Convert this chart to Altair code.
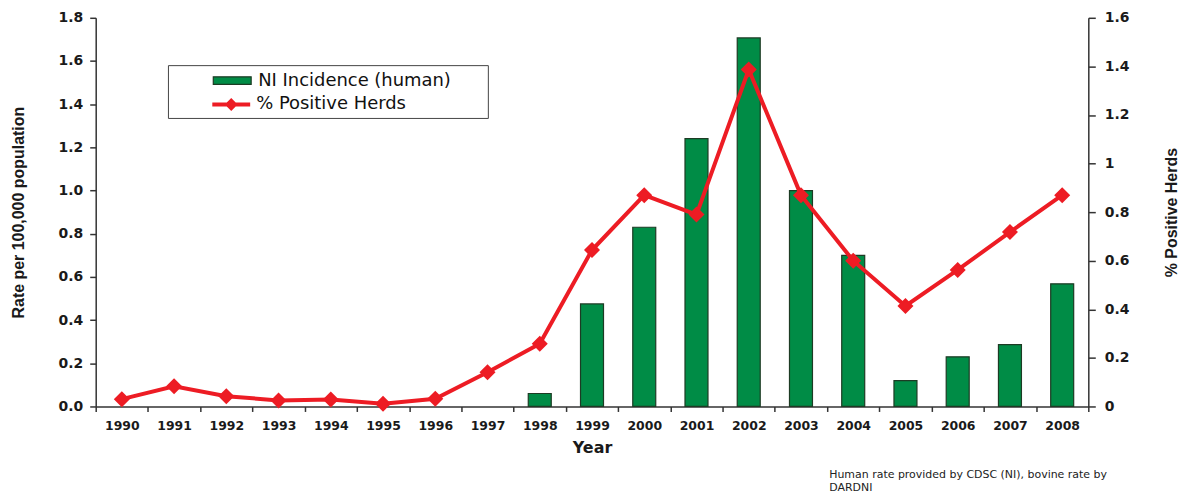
import altair as alt
import pandas as pd

# ---------------- data ----------------
years = [str(y) for y in range(1990, 2009)]
bar_years = [str(y) for y in range(1998, 2009)]
incidence = [0.06, 0.475, 0.83, 1.24, 1.707, 1.0, 0.70, 0.12, 0.23, 0.286, 0.568]
herds = [0.03, 0.083, 0.042, 0.025, 0.029, 0.011, 0.032, 0.141, 0.258, 0.644,
         0.87, 0.79, 1.387, 0.87, 0.60, 0.414, 0.562, 0.718, 0.87]
left_ticks = [0.0, 0.2, 0.4, 0.6, 0.8, 1.0, 1.2, 1.4, 1.6, 1.8]
right_ticks = [0.0, 0.2, 0.4, 0.6, 0.8, 1.0, 1.2, 1.4, 1.6]
series = ["NI Incidence (human)", "% Positive Herds"]
note = ["Human rate provided by CDSC (NI), bovine rate by", "DARDNI"]

GREEN = "#008C46"
GREEN_EDGE = "#1d3b24"
RED = "#ED1C24"
AXIS = "#333333"
LABEL_FONT = "DejaVu Sans"
TITLE_FONT = "Liberation Sans"

bars_df = pd.DataFrame({"year": bar_years, "value": incidence, "series": series[0]})
line_df = pd.DataFrame({"year": years, "value": herds, "series": series[1]})
note_df = pd.DataFrame({"k": [0]})
box_df = pd.DataFrame({"k": [0]})

bar_legend = alt.Legend(
    title=None, orient="none", legendX=117, legendY=43,
    padding=0, symbolSize=1444, labelOffset=6, labelLimit=400,
    symbolType="M-1,-0.2H1V0.2H-1Z",
    symbolStrokeColor=GREEN_EDGE, symbolStrokeWidth=1.2, symbolOpacity=1,
    labelFont=LABEL_FONT, labelFontSize=18, labelColor="#111111",
)
line_legend = alt.Legend(
    title=None, orient="none", legendX=117, legendY=68,
    padding=0, symbolSize=1444, labelOffset=6, labelLimit=400,
    symbolType="M-1,-0.105H1V0.105H-1Z M0,-0.34L0.34,0L0,0.34L-0.34,0Z",
    symbolFillColor=RED, symbolStrokeWidth=0, symbolOpacity=1,
    labelFont=LABEL_FONT, labelFontSize=18, labelColor="#111111",
)

x_enc = alt.X(
    "year:O",
    scale=alt.Scale(type="band", paddingInner=0, paddingOuter=0),
    axis=alt.Axis(
        title="Year", labelAngle=0, tickBand="extent",
        labelFont=LABEL_FONT, labelFontSize=12.5, labelFontWeight="bold", labelColor="#1a1a1a",
        labelPadding=8, tickSize=5, tickColor=AXIS, tickWidth=1.5,
        domainColor=AXIS, domainWidth=1.5,
        titleFont=LABEL_FONT, titleFontSize=16, titleFontWeight="bold", titleColor="#1a1a1a",
        titleBaseline="alphabetic", titleY=46,
    ),
)

box = alt.Chart(box_df).mark_rect(fill="white", stroke="#444444", strokeWidth=1).encode(
    x=alt.value(73), x2=alt.value(394), y=alt.value(48), y2=alt.value(101)
)

bars = alt.Chart(bars_df).mark_bar(
    width=alt.RelativeBandSize(0.44), stroke=GREEN_EDGE, strokeWidth=1.2, opacity=1
).encode(
    x=x_enc,
    y=alt.Y(
        "value:Q",
        scale=alt.Scale(domain=[0, 1.8], nice=False, zero=True),
        axis=alt.Axis(
            values=left_ticks, format=".1f", title="Rate per 100,000 population",
            labelFont=LABEL_FONT, labelFontSize=14, labelFontWeight="bold", labelColor="#1a1a1a",
            labelPadding=7, tickSize=6, tickColor=AXIS, tickWidth=1.5,
            domainColor=AXIS, domainWidth=1.5, grid=False,
            titleFont=TITLE_FONT, titleFontSize=16, titleFontWeight="bold", titleColor="#1a1a1a",
            titleAngle=270, titleAlign="center", titleBaseline="middle",
            titleX=-77, titleY=195,
        ),
    ),
    fill=alt.Fill("series:N", scale=alt.Scale(domain=[series[0]], range=[GREEN]), legend=bar_legend),
)

line = alt.Chart(line_df).mark_line(
    strokeWidth=4,
    point=alt.OverlayMarkDef(shape="diamond", size=175, filled=True, fill=RED, color=RED, opacity=1),
).encode(
    x=x_enc,
    y=alt.Y(
        "value:Q",
        scale=alt.Scale(domain=[0, 1.6], nice=False, zero=True),
        axis=alt.Axis(
            orient="right", values=right_ticks, format="~g", title="% Positive Herds",
            labelFont=LABEL_FONT, labelFontSize=14, labelFontWeight="bold", labelColor="#1a1a1a",
            labelPadding=9, tickSize=7, tickColor=AXIS, tickWidth=1.5,
            domainColor=AXIS, domainWidth=1.5, grid=False,
            titleFont=TITLE_FONT, titleFontSize=16, titleFontWeight="bold", titleColor="#1a1a1a",
            titleAngle=270, titleAlign="center", titleBaseline="middle",
            titleX=83, titleY=195,
        ),
    ),
    stroke=alt.Stroke("series:N", scale=alt.Scale(domain=[series[1]], range=[RED]), legend=line_legend),
)

note_text = alt.Chart(note_df).mark_text(
    text=note, align="left", baseline="alphabetic", lineHeight=13,
    font=LABEL_FONT, fontSize=11, color="#222222",
).encode(x=alt.value(736), y=alt.value(462))

chart = (
    alt.layer(box, bars, line, note_text)
    .resolve_scale(y="independent")
    .properties(
        width=996, height=390,
        autosize=alt.AutoSizeParams(type="none"),
        padding={"left": 88, "top": 9, "right": 91, "bottom": 86},
        background="white",
    )
    .configure_view(strokeWidth=0)
)

chart.save("out.html", embed_options={"renderer": "svg", "actions": False})
